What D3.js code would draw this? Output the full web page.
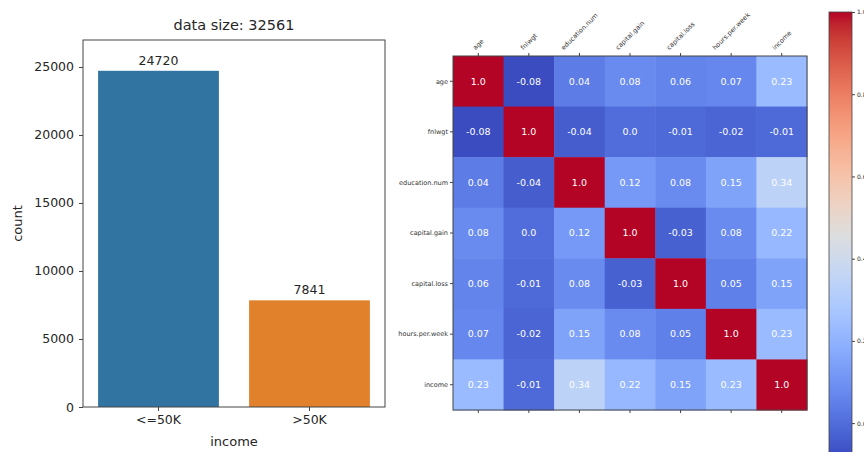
<!DOCTYPE html>
<html>
<head>
<meta charset="utf-8">
<script src="https://cdn.jsdelivr.net/npm/d3@7"></script>
<style>
  body { margin: 0; background: #fff; }
  svg { display: block; font-family: "DejaVu Sans", sans-serif; }
</style>
</head>
<body>
<svg id="chart" width="864" height="452"></svg>
<script>
// ---- data ----
const incomeClasses = ["<=50K", ">50K"];
const incomeCounts = [24720, 7841];
const barColors = ["#3274a1", "#e1812c"];
const countTicks = [0, 5000, 10000, 15000, 20000, 25000];

const features = ["age", "fnlwgt", "education.num", "capital.gain", "capital.loss", "hours.per.week", "income"];
const corrAge = [1.0, -0.08, 0.04, 0.08, 0.06, 0.07, 0.23];
const corrFnlwgt = [-0.08, 1.0, -0.04, 0.0, -0.01, -0.02, -0.01];
const corrEducation = [0.04, -0.04, 1.0, 0.12, 0.08, 0.15, 0.34];
const corrCapGain = [0.08, 0.0, 0.12, 1.0, -0.03, 0.08, 0.22];
const corrCapLoss = [0.06, -0.01, 0.08, -0.03, 1.0, 0.05, 0.15];
const corrHours = [0.07, -0.02, 0.15, 0.08, 0.05, 1.0, 0.23];
const corrIncome = [0.23, -0.01, 0.34, 0.22, 0.15, 0.23, 1.0];
const corrRows = [corrAge, corrFnlwgt, corrEducation, corrCapGain, corrCapLoss, corrHours, corrIncome];
const colorbarTicks = [0.0, 0.2, 0.4, 0.6, 0.8, 1.0];

// coolwarm (Moreland) stops
const coolwarmStops = [
  [59,76,192],[68,90,204],[77,104,215],[87,117,225],[98,130,234],[108,142,241],
  [119,154,247],[130,165,251],[141,176,254],[152,185,255],[163,194,255],[174,201,253],
  [184,208,249],[194,213,244],[204,217,238],[213,219,230],[221,221,221],[229,216,209],
  [236,211,197],[241,204,184],[245,196,172],[247,187,160],[247,177,148],[247,166,135],
  [244,154,123],[241,141,111],[236,127,99],[229,112,88],[222,96,77],[213,80,66],
  [203,62,56],[192,40,47],[180,4,38]
].map(c => d3.rgb(c[0], c[1], c[2]).toString());
const coolwarm = d3.piecewise(d3.interpolateRgb, coolwarmStops);

const svg = d3.select("#chart");
const txt = "#262626";
const spine = "#444";

// ---- bar chart ----
const bx0 = 83, bx1 = 385, by0 = 40, by1 = 407;
const x = d3.scaleBand().domain(incomeClasses).range([bx0, bx1]).paddingInner(0.2).paddingOuter(0.1);
const y = d3.scaleLinear().domain([0, 26985]).range([by1, by0]);

const bars = svg.append("g");
bars.selectAll("rect")
  .data(incomeClasses)
  .enter().append("rect")
  .attr("x", d => x(d))
  .attr("width", x.bandwidth())
  .attr("y", (d, i) => y(incomeCounts[i]))
  .attr("height", (d, i) => by1 - y(incomeCounts[i]))
  .attr("fill", (d, i) => barColors[i]);

bars.selectAll("text.val")
  .data(incomeClasses)
  .enter().append("text")
  .attr("class", "val")
  .attr("x", d => x(d) + x.bandwidth() / 2)
  .attr("y", (d, i) => y(incomeCounts[i]) - 6)
  .attr("text-anchor", "middle")
  .attr("font-size", 12.5)
  .attr("fill", txt)
  .text((d, i) => incomeCounts[i]);

const yAxis = svg.append("g")
  .attr("transform", `translate(${bx0},0)`)
  .call(d3.axisLeft(y).tickValues(countTicks).tickSize(4).tickPadding(5).tickFormat(d3.format("d")));
const xAxis = svg.append("g")
  .attr("transform", `translate(0,${by1})`)
  .call(d3.axisBottom(x).tickSize(4).tickPadding(4));
[yAxis, xAxis].forEach(a => {
  a.select(".domain").remove();
  a.selectAll("line").attr("stroke", spine);
  a.selectAll("text").attr("font-size", 12.5).attr("fill", txt).attr("font-family", "DejaVu Sans");
});

svg.append("rect")
  .attr("x", bx0).attr("y", by0)
  .attr("width", bx1 - bx0).attr("height", by1 - by0)
  .attr("fill", "none").attr("stroke", spine).attr("stroke-width", 1);

svg.append("text")
  .attr("x", (bx0 + bx1) / 2).attr("y", 30)
  .attr("text-anchor", "middle").attr("font-size", 14.5).attr("fill", txt)
  .text("data size: " + d3.sum(incomeCounts));
svg.append("text")
  .attr("x", (bx0 + bx1) / 2).attr("y", 446)
  .attr("text-anchor", "middle").attr("font-size", 13).attr("fill", txt)
  .text("income");
svg.append("text")
  .attr("transform", `translate(22,${(by0 + by1) / 2}) rotate(-90)`)
  .attr("text-anchor", "middle").attr("font-size", 13).attr("fill", txt)
  .text("count");

// ---- heatmap ----
const hx0 = 453, hy0 = 56, hs = 354;
const hx = d3.scaleBand().domain(features).range([hx0, hx0 + hs]);
const hy = d3.scaleBand().domain(features).range([hy0, hy0 + hs]);
const vmin = d3.min(corrRows.flat()), vmax = d3.max(corrRows.flat());
const color = v => coolwarm((v - vmin) / (vmax - vmin));

const cells = [];
corrRows.forEach((row, i) => row.forEach((v, j) => cells.push({r: features[i], c: features[j], v: v})));

const hm = svg.append("g");
hm.selectAll("rect")
  .data(cells)
  .enter().append("rect")
  .attr("x", d => hx(d.c))
  .attr("y", d => hy(d.r))
  .attr("width", hx.bandwidth() + 0.5)
  .attr("height", hy.bandwidth() + 0.5)
  .attr("fill", d => color(d.v));

hm.selectAll("text")
  .data(cells)
  .enter().append("text")
  .attr("x", d => hx(d.c) + hx.bandwidth() / 2)
  .attr("y", d => hy(d.r) + hy.bandwidth() / 2)
  .attr("dy", "0.35em")
  .attr("text-anchor", "middle")
  .attr("font-size", 9.5)
  .attr("fill", "#fff")
  .text(d => Number.isInteger(d.v) ? d.v.toFixed(1) : String(d.v));

svg.append("rect")
  .attr("x", hx0).attr("y", hy0).attr("width", hs).attr("height", hs)
  .attr("fill", "none").attr("stroke", spine).attr("stroke-width", 1);

// ticks
const tg = svg.append("g").attr("stroke", spine);
features.forEach(f => {
  const cx = hx(f) + hx.bandwidth() / 2;
  const cy = hy(f) + hy.bandwidth() / 2;
  tg.append("line").attr("x1", cx).attr("x2", cx).attr("y1", hy0).attr("y2", hy0 - 3);
  tg.append("line").attr("x1", cx).attr("x2", cx).attr("y1", hy0 + hs).attr("y2", hy0 + hs + 3);
  tg.append("line").attr("x1", hx0).attr("x2", hx0 - 3).attr("y1", cy).attr("y2", cy);
});

// top labels: rotated 45deg, centred on the tick like matplotlib ha='center'
const lblFont = 6.5;
svg.append("g").selectAll("text")
  .data(features)
  .enter().append("text")
  .attr("text-anchor", "middle")
  .attr("font-size", lblFont).attr("fill", "#333")
  .text(f => f)
  .each(function(f) {
    const L = this.getComputedTextLength();
    const h = (L + lblFont) * Math.SQRT1_2;
    const cx = hx(f) + hx.bandwidth() / 2;
    const cy = hy0 - 5 - h / 2;
    d3.select(this).attr("dy", "0.35em")
      .attr("transform", `translate(${cx},${cy}) rotate(-45)`);
  });

svg.append("g").selectAll("text")
  .data(features)
  .enter().append("text")
  .attr("x", hx0 - 5)
  .attr("y", f => hy(f) + hy.bandwidth() / 2)
  .attr("dy", "0.35em")
  .attr("text-anchor", "end")
  .attr("font-size", lblFont).attr("fill", "#333")
  .text(f => f);

// ---- colorbar ----
const cbx = 829, cbw = 23;
const cby = d3.scaleLinear().domain([vmin, vmax]).range([456, 12]);
const grad = svg.append("defs").append("linearGradient")
  .attr("id", "cw").attr("x1", 0).attr("x2", 0).attr("y1", 1).attr("y2", 0);
d3.range(0, 1.0001, 1 / 32).forEach(t => {
  grad.append("stop").attr("offset", t).attr("stop-color", coolwarm(t));
});
svg.append("rect")
  .attr("x", cbx).attr("y", cby(vmax))
  .attr("width", cbw).attr("height", cby(vmin) - cby(vmax))
  .attr("fill", "url(#cw)").attr("stroke", spine).attr("stroke-width", 0.8);

const cbAxis = svg.append("g")
  .attr("transform", `translate(${cbx + cbw},0)`)
  .call(d3.axisRight(cby).tickValues(colorbarTicks).tickSize(3).tickPadding(2).tickFormat(d3.format(".1f")));
cbAxis.select(".domain").remove();
cbAxis.selectAll("line").attr("stroke", spine);
cbAxis.selectAll("text").attr("font-size", 6).attr("fill", txt).attr("font-family", "DejaVu Sans");
</script>
</body>
</html>
